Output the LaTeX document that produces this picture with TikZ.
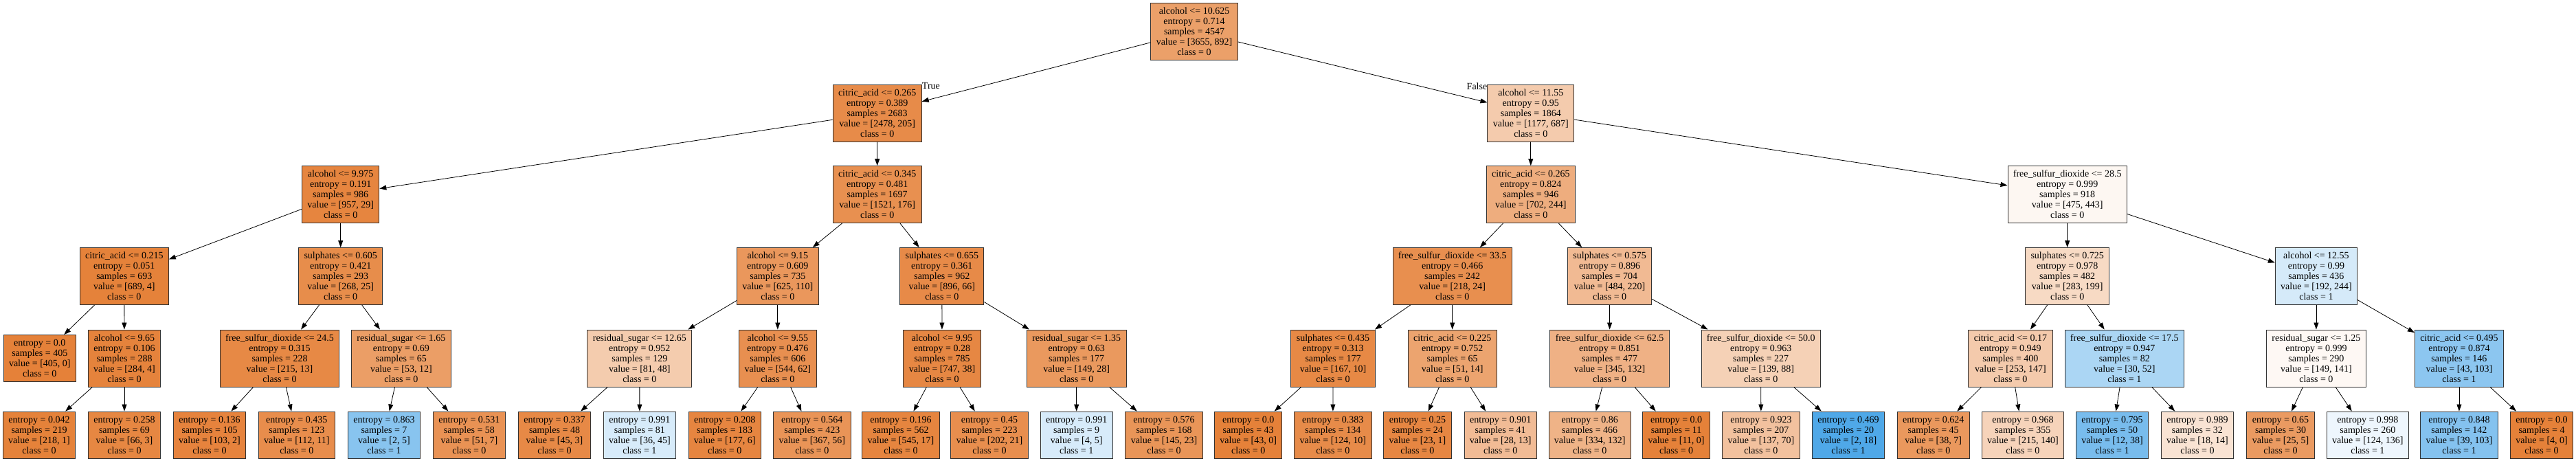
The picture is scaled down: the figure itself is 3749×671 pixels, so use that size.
\documentclass[tikz,border=0pt]{standalone}
\usepackage{fontspec}
\setmainfont{Liberation Serif}
\usetikzlibrary{arrows.meta}

\definecolor{clsA}{RGB}{229,129,57}
\definecolor{clsB}{RGB}{57,157,229}

\tikzset{
  % fill like sklearn: colour of the majority class, faded by purity
  vals/.style 2 args={/utils/exec={%
      \pgfmathsetmacro\vtot{#1+#2}%
      \pgfmathsetmacro\vfa{#1/\vtot}\pgfmathsetmacro\vfb{#2/\vtot}%
      \pgfmathsetmacro\vamt{100*abs(\vfa-\vfb)/(1-min(\vfa,\vfb))}%
      \ifnum#1<#2 \def\vcol{clsB}\else\def\vcol{clsA}\fi},
    fill=\vcol!\vamt},
  splitbox/.style={rectangle,draw=black!80,line width=0.9pt,align=center,
    inner xsep=7.9pt,inner ysep=0pt,minimum height=83pt},
  leafbox/.style={splitbox,minimum height=68pt},
  link/.style={-{Triangle[length=10pt,width=7pt]},line width=0.8pt,black}
}

\begin{document}
\begin{tikzpicture}[x=1pt,y=-1pt,font=\fontsize{14}{15}\selectfont]
\useasboundingbox (0,0) rectangle (3749,671);

% level 0
\node[splitbox,vals={3655}{892}] (r) at (1738,45.5) {alcohol <= 10.625\\entropy = 0.714\\samples = 4547\\value = [3655, 892]\\class = 0};

% level 1
\node[splitbox,vals={2478}{205}] (rL) at (1276.7,164.5) {citric\_acid <= 0.265\\entropy = 0.389\\samples = 2683\\value = [2478, 205]\\class = 0};
\node[splitbox,vals={1177}{687}] (rR) at (2227.8,164.5) {alcohol <= 11.55\\entropy = 0.95\\samples = 1864\\value = [1177, 687]\\class = 0};

% level 2
\node[splitbox,vals={957}{29}] (rLL) at (495.7,283) {alcohol <= 9.975\\entropy = 0.191\\samples = 986\\value = [957, 29]\\class = 0};
\node[splitbox,vals={1521}{176}] (rLR) at (1276.7,283) {citric\_acid <= 0.345\\entropy = 0.481\\samples = 1697\\value = [1521, 176]\\class = 0};
\node[splitbox,vals={702}{244}] (rRL) at (2227.8,283) {citric\_acid <= 0.265\\entropy = 0.824\\samples = 946\\value = [702, 244]\\class = 0};
\node[splitbox,vals={475}{443}] (rRR) at (3008.7,283) {free\_sulfur\_dioxide <= 28.5\\entropy = 0.999\\samples = 918\\value = [475, 443]\\class = 0};

% level 3
\node[splitbox,vals={689}{4}] (rLLL) at (180.8,402) {citric\_acid <= 0.215\\entropy = 0.051\\samples = 693\\value = [689, 4]\\class = 0};
\node[splitbox,vals={268}{25}] (rLLR) at (495.7,402) {sulphates <= 0.605\\entropy = 0.421\\samples = 293\\value = [268, 25]\\class = 0};
\node[splitbox,vals={625}{110}] (rLRL) at (1131.8,402) {alcohol <= 9.15\\entropy = 0.609\\samples = 735\\value = [625, 110]\\class = 0};
\node[splitbox,vals={896}{66}] (rLRR) at (1370.8,402) {sulphates <= 0.655\\entropy = 0.361\\samples = 962\\value = [896, 66]\\class = 0};
\node[splitbox,vals={218}{24}] (rRLL) at (2113.7,402) {free\_sulfur\_dioxide <= 33.5\\entropy = 0.466\\samples = 242\\value = [218, 24]\\class = 0};
\node[splitbox,vals={484}{220}] (rRLR) at (2342.6,402) {sulphates <= 0.575\\entropy = 0.896\\samples = 704\\value = [484, 220]\\class = 0};
\node[splitbox,vals={283}{199}] (rRRL) at (3008.7,402) {sulphates <= 0.725\\entropy = 0.978\\samples = 482\\value = [283, 199]\\class = 0};
\node[splitbox,vals={192}{244}] (rRRR) at (3370.9,402) {alcohol <= 12.55\\entropy = 0.99\\samples = 436\\value = [192, 244]\\class = 1};

% level 4
\node[leafbox,vals={405}{0}] (rLLLL) at (57.8,521.5) {entropy = 0.0\\samples = 405\\value = [405, 0]\\class = 0};
\node[splitbox,vals={284}{4}] (rLLLR) at (181,521.5) {alcohol <= 9.65\\entropy = 0.106\\samples = 288\\value = [284, 4]\\class = 0};
\node[splitbox,vals={215}{13}] (rLLRL) at (407,521.5) {free\_sulfur\_dioxide <= 24.5\\entropy = 0.315\\samples = 228\\value = [215, 13]\\class = 0};
\node[splitbox,vals={53}{12}] (rLLRR) at (583.9,521.5) {residual\_sugar <= 1.65\\entropy = 0.69\\samples = 65\\value = [53, 12]\\class = 0};
\node[splitbox,vals={81}{48}] (rLRLL) at (930.8,521.5) {residual\_sugar <= 12.65\\entropy = 0.952\\samples = 129\\value = [81, 48]\\class = 0};
\node[splitbox,vals={544}{62}] (rLRLR) at (1131.8,521.5) {alcohol <= 9.55\\entropy = 0.476\\samples = 606\\value = [544, 62]\\class = 0};
\node[splitbox,vals={747}{38}] (rLRRL) at (1371,521.5) {alcohol <= 9.95\\entropy = 0.28\\samples = 785\\value = [747, 38]\\class = 0};
\node[splitbox,vals={149}{28}] (rLRRR) at (1566.7,521.5) {residual\_sugar <= 1.35\\entropy = 0.63\\samples = 177\\value = [149, 28]\\class = 0};
\node[splitbox,vals={167}{10}] (rRLLL) at (1940,521.5) {sulphates <= 0.435\\entropy = 0.313\\samples = 177\\value = [167, 10]\\class = 0};
\node[splitbox,vals={51}{14}] (rRLLR) at (2113.7,521.5) {citric\_acid <= 0.225\\entropy = 0.752\\samples = 65\\value = [51, 14]\\class = 0};
\node[splitbox,vals={345}{132}] (rRLRL) at (2342.6,521.5) {free\_sulfur\_dioxide <= 62.5\\entropy = 0.851\\samples = 477\\value = [345, 132]\\class = 0};
\node[splitbox,vals={139}{88}] (rRLRR) at (2562.7,521.5) {free\_sulfur\_dioxide <= 50.0\\entropy = 0.963\\samples = 227\\value = [139, 88]\\class = 0};
\node[splitbox,vals={253}{147}] (rRRLL) at (2925.9,521.5) {citric\_acid <= 0.17\\entropy = 0.949\\samples = 400\\value = [253, 147]\\class = 0};
\node[splitbox,vals={30}{52}] (rRRLR) at (3091.8,521.5) {free\_sulfur\_dioxide <= 17.5\\entropy = 0.947\\samples = 82\\value = [30, 52]\\class = 1};
\node[splitbox,vals={149}{141}] (rRRRL) at (3370.9,521.5) {residual\_sugar <= 1.25\\entropy = 0.999\\samples = 290\\value = [149, 141]\\class = 0};
\node[splitbox,vals={43}{103}] (rRRRR) at (3578.9,521.5) {citric\_acid <= 0.495\\entropy = 0.874\\samples = 146\\value = [43, 103]\\class = 1};

% level 5 (leaves)
\node[leafbox,vals={218}{1}] (rLLLRL) at (57,633) {entropy = 0.042\\samples = 219\\value = [218, 1]\\class = 0};
\node[leafbox,vals={66}{3}] (rLLLRR) at (181,633) {entropy = 0.258\\samples = 69\\value = [66, 3]\\class = 0};
\node[leafbox,vals={103}{2}] (rLLRLL) at (305,633) {entropy = 0.136\\samples = 105\\value = [103, 2]\\class = 0};
\node[leafbox,vals={112}{11}] (rLLRLR) at (431.8,633) {entropy = 0.435\\samples = 123\\value = [112, 11]\\class = 0};
\node[leafbox,vals={2}{5}] (rLLRRL) at (559,633) {entropy = 0.863\\samples = 7\\value = [2, 5]\\class = 1};
\node[leafbox,vals={51}{7}] (rLLRRR) at (682.9,633) {entropy = 0.531\\samples = 58\\value = [51, 7]\\class = 0};
\node[leafbox,vals={45}{3}] (rLRLLL) at (807,633) {entropy = 0.337\\samples = 48\\value = [45, 3]\\class = 0};
\node[leafbox,vals={36}{45}] (rLRLLR) at (930.9,633) {entropy = 0.991\\samples = 81\\value = [36, 45]\\class = 1};
\node[leafbox,vals={177}{6}] (rLRLRL) at (1054.7,633) {entropy = 0.208\\samples = 183\\value = [177, 6]\\class = 0};
\node[leafbox,vals={367}{56}] (rLRLRR) at (1181.8,633) {entropy = 0.564\\samples = 423\\value = [367, 56]\\class = 0};
\node[leafbox,vals={545}{17}] (rLRRLL) at (1311,633) {entropy = 0.196\\samples = 562\\value = [545, 17]\\class = 0};
\node[leafbox,vals={202}{21}] (rLRRLR) at (1440,633) {entropy = 0.45\\samples = 223\\value = [202, 21]\\class = 0};
\node[leafbox,vals={4}{5}] (rLRRRL) at (1566.7,633) {entropy = 0.991\\samples = 9\\value = [4, 5]\\class = 1};
\node[leafbox,vals={145}{23}] (rLRRRR) at (1694,633) {entropy = 0.576\\samples = 168\\value = [145, 23]\\class = 0};
\node[leafbox,vals={43}{0}] (rRLLLL) at (1816.7,633) {entropy = 0.0\\samples = 43\\value = [43, 0]\\class = 0};
\node[leafbox,vals={124}{10}] (rRLLLR) at (1939.8,633) {entropy = 0.383\\samples = 134\\value = [124, 10]\\class = 0};
\node[leafbox,vals={23}{1}] (rRLLRL) at (2062.9,633) {entropy = 0.25\\samples = 24\\value = [23, 1]\\class = 0};
\node[leafbox,vals={28}{13}] (rRLLRR) at (2183.7,633) {entropy = 0.901\\samples = 41\\value = [28, 13]\\class = 0};
\node[leafbox,vals={334}{132}] (rRLRLL) at (2313.7,633) {entropy = 0.86\\samples = 466\\value = [334, 132]\\class = 0};
\node[leafbox,vals={11}{0}] (rRLRLR) at (2439.6,633) {entropy = 0.0\\samples = 11\\value = [11, 0]\\class = 0};
\node[leafbox,vals={137}{70}] (rRLRRL) at (2562.9,633) {entropy = 0.923\\samples = 207\\value = [137, 70]\\class = 0};
\node[leafbox,vals={2}{18}] (rRLRRR) at (2690,633) {entropy = 0.469\\samples = 20\\value = [2, 18]\\class = 1};
\node[leafbox,vals={38}{7}] (rRRLLL) at (2813.7,633) {entropy = 0.624\\samples = 45\\value = [38, 7]\\class = 0};
\node[leafbox,vals={215}{140}] (rRRLLR) at (2943.9,633) {entropy = 0.968\\samples = 355\\value = [215, 140]\\class = 0};
\node[leafbox,vals={12}{38}] (rRRLRL) at (3074,633) {entropy = 0.795\\samples = 50\\value = [12, 38]\\class = 1};
\node[leafbox,vals={18}{14}] (rRRLRR) at (3197.9,633) {entropy = 0.989\\samples = 32\\value = [18, 14]\\class = 0};
\node[leafbox,vals={25}{5}] (rRRRLL) at (3319,633) {entropy = 0.65\\samples = 30\\value = [25, 5]\\class = 0};
\node[leafbox,vals={124}{136}] (rRRRLR) at (3445.8,633) {entropy = 0.998\\samples = 260\\value = [124, 136]\\class = 1};
\node[leafbox,vals={39}{103}] (rRRRRL) at (3578.9,633) {entropy = 0.848\\samples = 142\\value = [39, 103]\\class = 1};
\node[leafbox,vals={4}{0}] (rRRRRR) at (3699,633) {entropy = 0.0\\samples = 4\\value = [4, 0]\\class = 0};

% edges: every split node to its two children
\foreach \p in {r,rL,rR,rLL,rLR,rRL,rRR,rLLL,rLLR,rLRL,rLRR,rRLL,rRLR,rRRL,rRRR,
  rLLLR,rLLRL,rLLRR,rLRLL,rLRLR,rLRRL,rLRRR,rRLLL,rRLLR,rRLRL,rRLRR,rRRLL,rRRLR,rRRRL,rRRRR}
{
  \draw[link] (\p) -- (\p L);
  \draw[link] (\p) -- (\p R);
}

\node[anchor=base west,inner sep=0pt] (ltrue) at (rL.north east) [yshift=-7pt] {True};
\node[anchor=base east,inner sep=0pt] (lfalse) at (rR.north west) [yshift=-8pt] {False};

\end{tikzpicture}
\end{document}
